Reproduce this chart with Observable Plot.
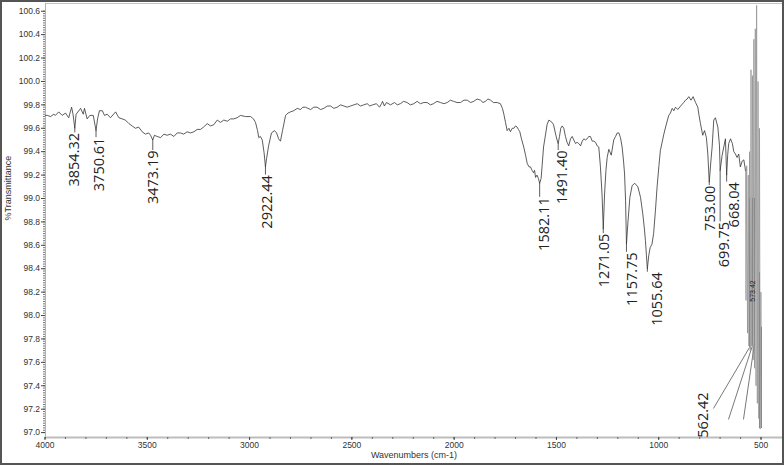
<!DOCTYPE html>
<html>
<head>
<meta charset="utf-8">
<script src="https://cdn.jsdelivr.net/npm/d3@7"></script>
<script src="https://cdn.jsdelivr.net/npm/@observablehq/plot@0.6"></script>
<style>
  html, body { margin: 0; padding: 0; background: #fff; }
  svg { display: block; outline: 2px solid #555; outline-offset: -2px; }
</style>
</head>
<body>
<script>
// Spectrum: [wavenumber (cm-1), %Transmittance]
const spectrum = [
  [3998,99.71],[3989,99.71],[3973,99.70],[3957,99.72],[3949,99.71],[3933,99.74],[3916,99.71],[3900,99.73],
  [3884,99.69],[3870,99.78],[3863,99.72],[3854.32,99.60],[3848,99.72],[3826,99.77],[3813,99.72],[3807,99.77],
  [3794,99.68],[3781,99.71],[3764,99.71],[3750.61,99.58],[3743,99.68],[3734,99.75],[3720,99.75],[3709,99.71],
  [3696,99.72],[3680,99.69],[3655,99.74],[3639,99.69],[3623,99.68],[3607,99.67],[3590,99.64],[3574,99.62],
  [3558,99.60],[3542,99.61],[3525,99.57],[3509,99.55],[3493,99.56],[3484,99.54],[3473.19,99.50],[3465,99.54],
  [3452,99.53],[3435,99.52],[3419,99.55],[3403,99.54],[3387,99.55],[3370,99.53],[3354,99.56],[3338,99.56],
  [3322,99.55],[3305,99.57],[3289,99.56],[3272,99.57],[3256,99.59],[3240,99.59],
  [3225,99.61],[3207,99.64],[3191,99.62],[3175,99.63],[3158,99.67],[3142,99.65],[3126,99.67],[3109,99.66],
  [3093,99.68],[3077,99.68],[3061,99.69],[3044,99.71],[3020,99.70],[2995,99.70],[2981,99.68],[2971,99.65],
  [2961,99.58],[2955,99.52],[2947,99.53],[2938,99.50],[2929,99.39],[2922.44,99.27],[2917,99.34],[2907,99.45],
  [2893,99.56],[2878,99.58],[2868,99.56],[2858,99.51],[2849,99.49],[2839,99.58],[2824,99.71],[2812,99.73],
  [2800,99.74],[2784,99.75],[2767,99.77],[2751,99.76],[2740,99.78],[2727,99.78],[2715,99.77],[2702,99.76],
  [2686,99.78],[2670,99.78],[2653,99.76],[2637,99.77],[2620,99.79],[2604,99.79],[2588,99.77],[2572,99.78],
  [2555,99.80],[2539,99.79],[2523,99.78],[2507,99.79],[2490,99.80],[2474,99.81],[2458,99.79],[2442,99.80],
  [2425,99.81],[2412,99.79],[2399,99.80],[2380,99.81],[2365,99.78],[2355,99.81],[2350,99.83],[2341,99.79],
  [2331,99.82],[2311,99.80],[2292,99.82],[2278,99.80],[2263,99.81],
  [2247,99.83],[2230,99.82],[2214,99.80],[2197,99.81],[2181,99.83],[2165,99.81],[2148,99.82],[2132,99.82],
  [2116,99.80],[2101,99.81],[2084,99.83],[2067,99.82],[2050,99.81],[2034,99.82],[2018,99.84],[2003,99.83],
  [1986,99.82],[1969,99.82],[1952,99.84],[1936,99.84],[1920,99.82],[1904,99.83],[1888,99.85],[1871,99.84],
  [1859,99.82],[1847,99.83],[1835,99.85],[1822,99.84],[1808,99.82],[1790,99.82],[1774,99.81],[1764,99.77],
  [1757,99.72],[1749,99.65],[1741,99.58],[1732,99.60],[1725,99.57],[1716,99.60],[1708,99.60],[1700,99.62],
  [1692,99.61],[1686,99.59],[1679,99.57],[1671,99.51],[1660,99.44],[1651,99.37],[1643,99.30],[1634,99.27],
  [1627,99.27],[1619,99.24],[1612,99.22],[1607,99.24],[1602,99.18],[1595,99.20],[1588,99.17],[1582.11,99.13],
  [1575,99.17],[1570,99.28],[1563,99.44],[1553,99.55],[1546,99.63],[1537,99.67],[1529,99.66],[1521,99.65],
  [1514,99.63],[1504,99.55],[1497,99.50],[1491.40,99.47],[1485,99.53],[1479,99.60],[1472,99.62],[1464,99.60],
  [1456,99.53],[1448,99.48],[1440,99.45],[1431,99.51],[1423,99.53],[1415,99.50],[1407,99.47],[1399,99.48],
  [1391,99.47],[1382,99.45],[1374,99.49],[1366,99.51],[1358,99.50],[1350,99.51],[1342,99.53],[1334,99.53],
  [1325,99.49],[1317,99.49],[1309,99.48],[1301,99.45],[1293,99.44],[1285,99.27],[1277,99.03],[1271.05,98.74],
  [1265,99.03],[1258,99.24],[1252,99.35],[1244,99.42],[1232,99.37],[1220,99.50],[1211,99.53],[1203,99.56],
  [1195,99.56],[1187,99.52],[1179,99.44],[1172,99.32],[1167,99.21],[1162,98.98],[1157.75,98.61],[1150,98.81],
  [1141,99.01],[1130,99.11],[1117,99.13],[1102,99.10],[1089,99.01],[1078,98.87],[1070,98.74],[1065,98.64],
  [1060,98.51],[1055.64,98.40],[1049,98.51],[1042,98.58],[1033,98.61],[1025,98.70],[1016,98.90],[1008,99.10],
  [999,99.28],[992,99.41],[975,99.55],[965,99.62],[951,99.71],[943,99.73],[934,99.77],[926,99.75],
  [918,99.78],[907,99.76],[893,99.79],[878,99.82],[869,99.84],[861,99.85],[853,99.87],[842,99.84],
  [832,99.87],[820,99.82],[809,99.78],[803,99.71],[796,99.64],[785,99.54],[776,99.58],[767,99.52],
  [760,99.38],[753.00,99.14],[745,99.32],[739,99.44],[731,99.67],[723,99.69],[711,99.61],[703,99.45],
  [699.75,99.24],[690,99.37],[682,99.44],[674,99.51],[668.04,99.20],[663,99.37],[658,99.47],[649,99.51],
  [640,99.47],[633,99.40],[625,99.38],[617,99.35],[609,99.38],[601,99.27],[592,99.32],[584,99.33],
  [576,99.24]
];
// Noisy low-wavenumber end of the spectrum
const spectrumTail = [
  [576,99.24],[573.42,98.13],[570,99.28],[566,97.85],[562.42,99.20],[559,97.74],[556,99.40],[552.5,97.70],
  [549,100.10],[545.5,97.74],[542,100.05],[538.5,97.62],[535,100.36],[531.5,97.55],[528,100.45],[524.5,97.40],
  [521.5,100.65],[518,97.25],[514.5,100.00],[511,97.12],[507.5,99.60],[504,97.03],[500.5,98.20],[497.7,97.10]
];

// Labelled peaks: wavenumber, %T at the peak, %T where the label starts, label centre
const peakWn      = [3854.32, 3750.61, 3473.19, 2922.44, 1582.11, 1491.40, 1271.05, 1157.75, 1055.64, 753.00, 699.75, 668.04];
const peakT       = [99.60, 99.58, 99.50, 99.27, 99.13, 99.47, 98.74, 98.61, 98.40, 99.14, 99.24, 99.20];
const peakLabelT  = [99.56, 99.52, 99.41, 99.20, 99.01, 99.41, 98.70, 98.54, 98.37, 99.11, 98.80, 99.14];
const peakLabelWn = [3855.8, 3733.6, 3469.6, 2913.9, 1558.4, 1470.5, 1265.3, 1128.3, 1005.0, 746.0, 681.0, 629.8];

// Crowded low-wavenumber annotations
const tailLabelWn = [781];       const tailLabelT = [97.343];  const tailLabelText = ["562.42"];
const smallLabelWn = [541.7];    const smallLabelT = [98.21];  const smallLabelText = ["573.42"];
const tailRuleWn  = [556.4, 541.7, 532.0, 507.5, 497.8];
const tailRuleT1  = [99.00, 99.00, 99.00, 98.367, 97.90];
const tailRuleT2  = [97.727, 97.744, 97.761, 97.035, 97.035];
const tailLinkWn1 = [556.4, 541.7, 532.0];
const tailLinkT1  = [97.727, 97.744, 97.761];
const tailLinkWn2 = [732.4, 659.1, 585.8];
const tailLinkT2  = [97.206, 97.112, 97.112];

// Axis ticks
const xTicks = [4000, 3500, 3000, 2500, 2000, 1500, 1000, 500];
const yTicks = [97.0, 97.2, 97.4, 97.6, 97.8, 98.0, 98.2, 98.4, 98.6, 98.8, 99.0, 99.2, 99.4, 99.6, 99.8, 100.0, 100.2, 100.4, 100.6];
const xMinor = d3.range(500, 4001, 100);
const yMinor = d3.range(0, 181).map(i => +(97 + i * 0.02).toFixed(2));

const peaks = peakWn.map((w, i) => ({w, t: peakT[i], lt: peakLabelT[i], lw: peakLabelWn[i], label: w.toFixed(2)}));
const tailRules = tailRuleWn.map((w, i) => ({w, t1: tailRuleT1[i], t2: tailRuleT2[i]}));
const tailLinks = tailLinkWn1.map((w, i) => ({w1: w, t1: tailLinkT1[i], w2: tailLinkWn2[i], t2: tailLinkT2[i]}));
const tailLabels = tailLabelWn.map((w, i) => ({w, t: tailLabelT[i], label: tailLabelText[i]}));
const smallLabels = smallLabelWn.map((w, i) => ({w, t: smallLabelT[i], label: smallLabelText[i]}));

const peakFont = "'Open Sans', 'Noto Sans', sans-serif";
const tickFont = "'Liberation Sans', Arial, sans-serif";

const chart = Plot.plot({
  width: 784,
  height: 465,
  marginLeft: 45,
  marginRight: 2,
  marginTop: 3,
  marginBottom: 28,
  x: {domain: [4000, 395], range: [44.5, 782]},
  y: {domain: [96.958, 100.666], range: [437, 3]},
  style: {fontFamily: tickFont, fontSize: "8.5px", color: "#333", background: "#fff", overflow: "visible"},
  marks: [
    Plot.frame({stroke: "#c4c4c4"}),
    Plot.frame({anchor: "bottom", stroke: "#bdbdbd", strokeWidth: 2}),
    Plot.frame({anchor: "left", stroke: "#b0b0b0"}),
    Plot.axisY(yMinor, {tickSize: 2, tickFormat: () => "", stroke: "#777", label: null}),
    Plot.axisY(yTicks, {tickSize: 4, tickPadding: 1.5, tickFormat: d => d.toFixed(1), stroke: "#444", fill: "#333", label: null, fontSize: 8.5}),
    Plot.axisX(xMinor, {tickSize: 2, tickFormat: () => "", stroke: "#666", label: null}),
    Plot.axisX(xTicks, {tickSize: 3, tickPadding: 1.5, tickFormat: d => String(d), stroke: "#444", fill: "#333", label: null, fontSize: 8.5}),
    Plot.text(["%Transmittance"], {frameAnchor: "left", dx: -37.5, rotate: -90, fontSize: 9, fill: "#333", fontFamily: tickFont}),
    Plot.text(["Wavenumbers (cm-1)"], {frameAnchor: "bottom", dy: 20, fontSize: 9, fill: "#333", fontFamily: tickFont}),
    Plot.ruleX(tailRules, {x: "w", y1: "t1", y2: "t2", stroke: "#666", strokeWidth: 0.8}),
    Plot.link(tailLinks, {x1: "w1", y1: "t1", x2: "w2", y2: "t2", stroke: "#555", strokeWidth: 0.8}),
    Plot.line(spectrumTail, {x: d => d[0], y: d => d[1], stroke: "#8c8c8c", strokeWidth: 0.7}),
    Plot.line(spectrum, {x: d => d[0], y: d => d[1], stroke: "#333", strokeWidth: 0.8}),
    Plot.ruleX(peaks, {x: "w", y1: "t", y2: "lt", stroke: "#333", strokeWidth: 0.8}),
    Plot.text(peaks, {x: "lw", y: "lt", text: "label", rotate: -90, textAnchor: "end", lineAnchor: "middle", fontSize: 14.5, fill: "#222", fontFamily: peakFont}),
    Plot.text(tailLabels, {x: "w", y: "t", text: "label", rotate: -90, textAnchor: "end", lineAnchor: "middle", fontSize: 14.5, fill: "#222", fontFamily: peakFont}),
    Plot.text(smallLabels, {x: "w", y: "t", text: "label", rotate: -90, textAnchor: "middle", lineAnchor: "middle", fontSize: 7, fill: "#222", fontFamily: tickFont})
  ]
});

document.body.append(chart);
</script>
</body>
</html>
